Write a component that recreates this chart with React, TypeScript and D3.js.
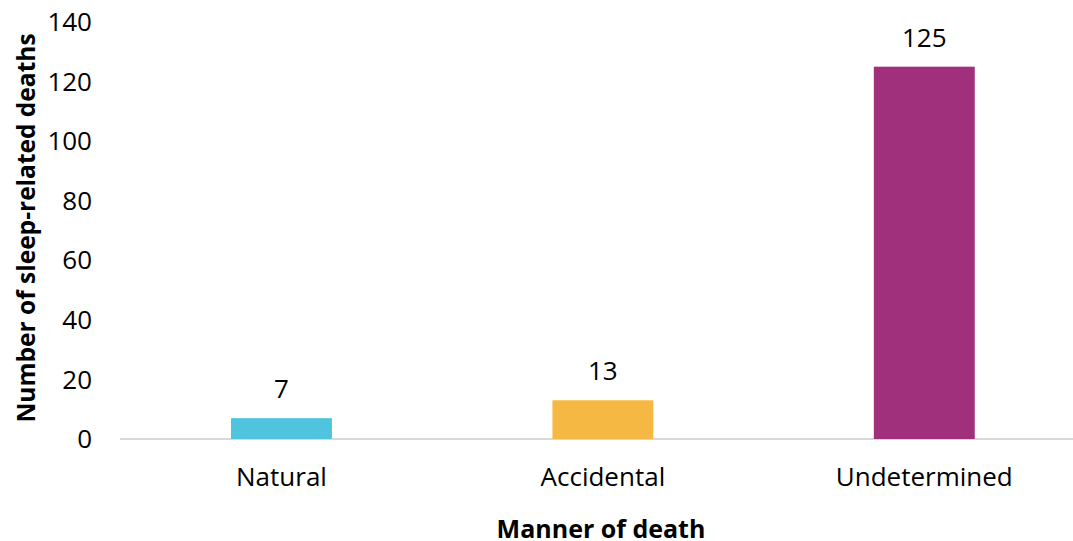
import React, { useRef, useEffect } from 'react';
import * as d3 from 'd3';

const categories = ['Natural', 'Accidental', 'Undetermined'];
const deaths = [7, 13, 125];
const barColors = ['#50C4DF', '#F5B843', '#A0307C'];
const yTicks = [0, 20, 40, 60, 80, 100, 120, 140];

const App = () => {
  const svgRef = useRef<SVGSVGElement>(null);

  useEffect(() => {
    if (!svgRef.current) return;
    const width = 1073;
    const height = 541;
    const font = "'Open Sans', sans-serif";

    d3.select(svgRef.current).selectAll('*').remove();
    const svg = d3.select(svgRef.current)
      .attr('width', width)
      .attr('height', height);

    const x = d3.scaleBand<string>()
      .domain(categories)
      .range([120.75, 1085])
      .paddingInner(0.686)
      .paddingOuter(0.343);

    const y = d3.scaleLinear()
      .domain([0, 140])
      .range([439, 22]);

    // Baseline
    svg.append('line')
      .attr('x1', 120)
      .attr('x2', width)
      .attr('y1', y(0))
      .attr('y2', y(0))
      .attr('stroke', '#D9D9D9')
      .attr('stroke-width', 2);

    // Y tick labels
    svg.append('g')
      .selectAll('text')
      .data(yTicks)
      .enter()
      .append('text')
      .attr('x', 92)
      .attr('y', d => y(d))
      .attr('dy', '0.35em')
      .attr('text-anchor', 'end')
      .style('font-family', font)
      .style('font-size', '26px')
      .attr('fill', '#000')
      .text(d => d);

    // Bars
    svg.append('g')
      .selectAll('rect')
      .data(deaths)
      .enter()
      .append('rect')
      .attr('x', (d, i) => x(categories[i]) as number)
      .attr('y', d => y(d))
      .attr('width', x.bandwidth())
      .attr('height', d => y(0) - y(d))
      .attr('fill', (d, i) => barColors[i]);

    // Value labels
    svg.append('g')
      .selectAll('text')
      .data(deaths)
      .enter()
      .append('text')
      .attr('x', (d, i) => (x(categories[i]) as number) + x.bandwidth() / 2)
      .attr('y', d => y(d) - 29)
      .attr('dy', '0.35em')
      .attr('text-anchor', 'middle')
      .style('font-family', font)
      .style('font-size', '26px')
      .attr('fill', '#000')
      .text(d => d);

    // Category labels
    svg.append('g')
      .selectAll('text')
      .data(categories)
      .enter()
      .append('text')
      .attr('x', d => (x(d) as number) + x.bandwidth() / 2)
      .attr('y', 477)
      .attr('dy', '0.35em')
      .attr('text-anchor', 'middle')
      .style('font-family', font)
      .style('font-size', '26px')
      .attr('fill', '#000')
      .text(d => d);

    // Axis titles
    svg.append('text')
      .attr('x', 601)
      .attr('y', 529)
      .attr('dy', '0.35em')
      .attr('text-anchor', 'middle')
      .style('font-family', font)
      .style('font-size', '25px')
      .style('font-weight', 'bold')
      .attr('fill', '#000')
      .text('Manner of death');

    svg.append('text')
      .attr('transform', `translate(26, 228) rotate(-90)`)
      .attr('dy', '0.35em')
      .attr('text-anchor', 'middle')
      .style('font-family', font)
      .style('font-size', '24.5px')
      .style('font-weight', 'bold')
      .attr('fill', '#000')
      .text('Number of sleep-related deaths');
  }, []);

  return (
    <div style={{ position: 'fixed', left: 0, top: 0, background: '#fff' }}>
      <svg ref={svgRef} style={{ display: 'block' }} />
    </div>
  );
};

export default App;
